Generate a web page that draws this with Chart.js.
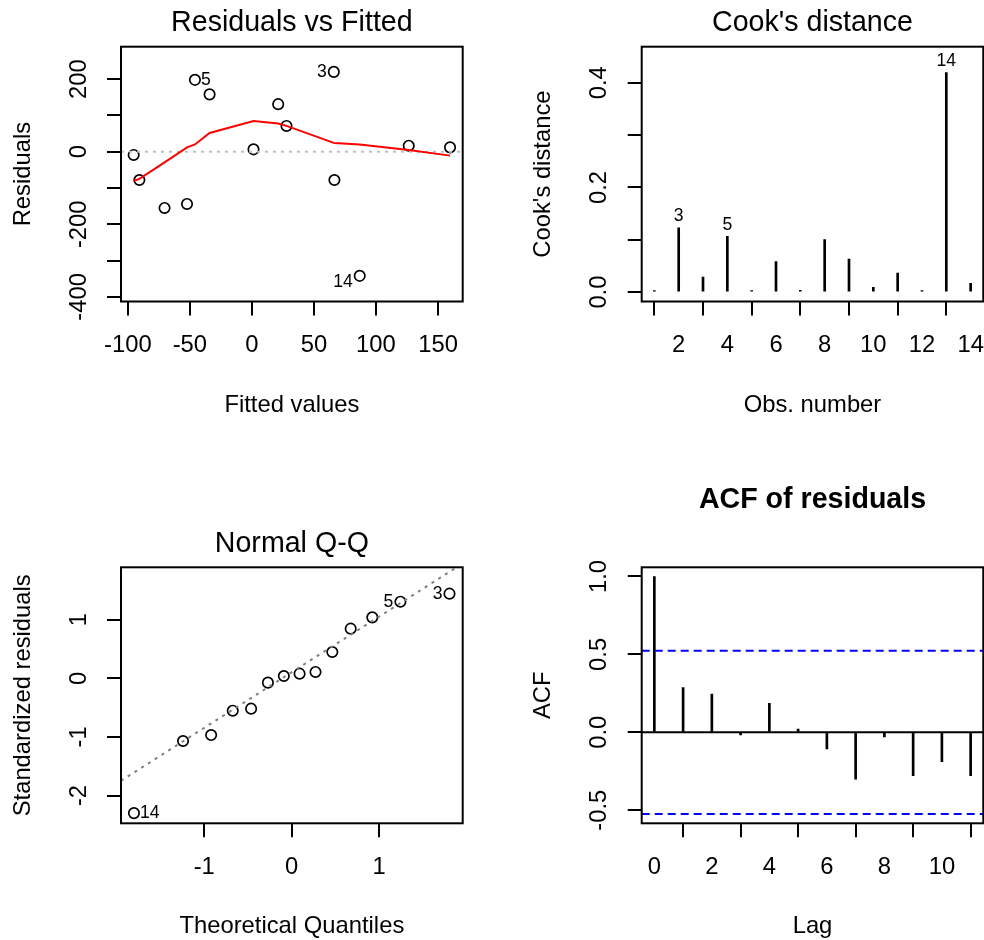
<!DOCTYPE html>
<html>
<head>
<meta charset="utf-8">
<title>Residual diagnostics</title>
<script src="https://cdn.jsdelivr.net/npm/chart.js@4.4.1/dist/chart.umd.min.js"></script>
<style>
body { margin: 0; background: #fff; }
#wrap { position: relative; width: 984px; height: 940px; }
.panel { position: absolute; width: 492px; height: 470px; }
</style>
</head>
<body>
<div id="wrap">
  <div class="panel" style="left:0;top:0"><canvas id="c1" width="492" height="470"></canvas></div>
  <div class="panel" style="left:492px;top:0"><canvas id="c2" width="492" height="470"></canvas></div>
  <div class="panel" style="left:0;top:470px"><canvas id="c3" width="492" height="470"></canvas></div>
  <div class="panel" style="left:492px;top:470px"><canvas id="c4" width="492" height="470"></canvas></div>
</div>
<script>
// residuals vs fitted, points sorted by fitted value
var fitted = [-95.3, -90.7, -70.4, -52.3, -45.9, -34.1, 1.3, 21.2, 27.9, 66.0, 66.5, 86.9, 126.4, 159.7];
var resid = [-9, -78, -155, -144, 198, 158, 6.5, 131, 71, 220, -78, -342, 16.5, 12];
var residIds = ['', '', '', '', '5', '', '', '', '', '3', '', '14', '', ''];
var smoothFit = [-80.6, -75, -29.5, 12, 20, 51.5, 84.6, 77.6, 71.2, 24.3, 24, 19.6, 5, -10.8];

// cook's distance
var obsNumber = [1, 2, 3, 4, 5, 6, 7, 8, 9, 10, 11, 12, 13, 14];
var cooksD = [0.0005, 0.123, 0.0286, 0.1067, 0.0013, 0.0584, 0.0032, 0.1003, 0.0629, 0.0089, 0.0362, 0.0013, 0.4197, 0.0165];
var cooksIds = ['', '3', '', '5', '', '', '', '', '', '', '', '', '14', ''];

// normal q-q
var theoQuant = [-1.803, -1.242, -0.921, -0.674, -0.464, -0.272, -0.090, 0.090, 0.272, 0.464, 0.674, 0.921, 1.242, 1.803];
var stdResid = [-2.30, -1.07, -0.968, -0.553, -0.518, -0.074, 0.039, 0.079, 0.108, 0.449, 0.847, 1.04, 1.307, 1.444];
var qqIds = ['14', '', '', '', '', '', '', '', '', '', '', '', '5', '3'];
var qqLineX = [-1.951, 1.885];
var qqLineY = [-1.748, 1.894];

// acf of residuals
var lags = [0, 1, 2, 3, 4, 5, 6, 7, 8, 9, 10, 11];
var acfVals = [1, 0.287, 0.246, -0.017, 0.186, 0.021, -0.107, -0.300, -0.030, -0.278, -0.188, -0.278];
var acfLimit = 0.524;

// ticks
var fittedTicks = [-100, -50, 0, 50, 100, 150];
var residTicks = [-400, -300, -200, -100, 0, 100, 200];
var residTickLabels = ['-400', '', '-200', '', '0', '', '200'];
var obsTicks = [2, 4, 6, 8, 10, 12, 14];
var cooksTicks = [0, 0.1, 0.2, 0.3, 0.4];
var cooksTickLabels = ['0.0', '', '0.2', '', '0.4'];
var quantTicks = [-1, 0, 1];
var stdTicks = [-2, -1, 0, 1];
var lagTicks = [0, 2, 4, 6, 8, 10];
var acfTicks = [-0.5, 0, 0.5, 1];
var acfTickLabels = ['-0.5', '0.0', '0.5', '1.0'];

var FONT = "'Liberation Sans', Arial, Helvetica, sans-serif";
var BASE = 23.8, MAIN = 28.6, ID = 17.6;

function pts(xs, ys) {
  return xs.map(function (x, i) { return {x: x, y: ys[i]}; });
}

function widest(labels) {
  var ctx = document.createElement('canvas').getContext('2d');
  ctx.font = BASE + 'px ' + FONT;
  var w = 0;
  labels.forEach(function (l) { w = Math.max(w, ctx.measureText(l).width); });
  return w;
}

var tickGrid = {
  drawOnChartArea: false, drawTicks: true, tickLength: 14,
  color: '#000', tickColor: '#000', lineWidth: 2, tickWidth: 2
};

function axisX(box, min, max, ticks, labels, title) {
  var h = 470 - box.b;
  return {
    type: 'linear', min: min, max: max, bounds: 'data', offset: false,
    afterBuildTicks: function (s) { s.ticks = ticks.map(function (v) { return {value: v}; }); },
    afterFit: function (s) { s.height = h; s.paddingLeft = 0; s.paddingRight = 0; },
    ticks: {
      autoSkip: false, minRotation: 0, maxRotation: 0, padding: 16, color: '#000',
      font: {family: FONT, size: BASE},
      callback: function (v, i) { return labels[i]; }
    },
    grid: tickGrid,
    border: {display: false},
    // axis title sits 103.5px below the plot box
    title: {display: true, text: title, color: '#000', font: {family: FONT, size: BASE},
      padding: {top: 0, bottom: h - 103.5 - BASE * 0.6}}
  };
}

function axisY(box, min, max, ticks, labels, title) {
  return {
    type: 'linear', min: min, max: max, bounds: 'data',
    afterBuildTicks: function (s) { s.ticks = ticks.map(function (v) { return {value: v}; }); },
    afterFit: function (s) { s.width = box.l; s.paddingTop = 0; s.paddingBottom = 0; },
    ticks: {
      autoSkip: false, minRotation: 90, maxRotation: 90, crossAlign: 'center',
      padding: 41.8 - 14 - widest(labels) / 2, color: '#000',
      font: {family: FONT, size: BASE},
      callback: function (v, i) { return labels[i]; }
    },
    grid: tickGrid,
    border: {display: false},
    title: {display: true, text: title, color: '#000', font: {family: FONT, size: BASE},
      padding: {top: box.l - 97.9 - BASE * 0.6, bottom: 0}}
  };
}

function options(box, title, bold, titleTop, x, y, ids) {
  return {
    responsive: false, animation: false, events: [],
    layout: {padding: {left: 0, top: 0, bottom: 0, right: 492 - box.r}},
    plugins: {
      legend: {display: false},
      tooltip: {enabled: false},
      title: {
        display: true, text: title, fullSize: false, color: '#000',
        font: {family: FONT, size: MAIN, weight: bold ? 'bold' : 'normal', lineHeight: 1},
        padding: {top: titleTop, bottom: box.t - MAIN - titleTop}
      },
      idLabels: ids
    },
    scales: {x: x, y: y}
  };
}

var boxPlugin = {
  id: 'plotBox',
  afterDraw: function (chart) {
    var a = chart.chartArea, ctx = chart.ctx;
    ctx.save();
    ctx.strokeStyle = '#000';
    ctx.lineWidth = 2;
    ctx.strokeRect(a.left, a.top, a.right - a.left, a.bottom - a.top);
    ctx.restore();
  }
};

// observation numbers next to the extreme points
var idPlugin = {
  id: 'idLabels',
  afterDatasetsDraw: function (chart, args, opts) {
    if (!opts || !opts.ids) return;
    var meta = chart.getDatasetMeta(opts.dataset);
    var ctx = chart.ctx;
    var xs = meta.data.map(function (el) { return el.x; });
    var mid = (Math.min.apply(null, xs) + Math.max.apply(null, xs)) / 2;
    var zero = chart.scales.y.getPixelForValue(0);
    ctx.save();
    ctx.font = ID + 'px ' + FONT;
    ctx.fillStyle = '#000';
    opts.ids.forEach(function (id, i) {
      if (!id) return;
      var el = meta.data[i];
      if (opts.above) {
        ctx.textAlign = 'center';
        ctx.textBaseline = 'alphabetic';
        ctx.fillText(id, el.x, el.y - 6.5);
        return;
      }
      var dy = (opts.lowerNegative && el.y > zero) ? 6 : 0;
      ctx.textBaseline = 'middle';
      if (el.x > mid) {
        ctx.textAlign = 'right';
        ctx.fillText(id, el.x - 7, el.y + dy);
      } else {
        ctx.textAlign = 'left';
        ctx.fillText(id, el.x + 6, el.y + dy);
      }
    });
    ctx.restore();
  }
};

function circles(data) {
  return {
    type: 'scatter', data: data, showLine: false, pointStyle: 'circle', pointRadius: 5.2,
    pointBorderWidth: 1.7, pointBorderColor: '#000', pointBackgroundColor: 'rgba(0,0,0,0)'
  };
}

function refLine(data, color, dash) {
  return {type: 'line', data: data, borderColor: color, borderWidth: 2, borderDash: dash, pointRadius: 0, fill: false};
}

// 1. residuals vs fitted
var b1 = {l: 121, r: 462.7, t: 46.7, b: 301.5};
var x1 = [-105.5, 169.9];
new Chart(document.getElementById('c1'), {
  type: 'scatter',
  data: {
    datasets: [
      refLine(pts(fitted, smoothFit), '#ff0000', []),
      refLine(pts(x1, [0, 0]), '#bebebe', [3, 5]),
      circles(pts(fitted, resid))
    ]
  },
  options: options(b1, 'Residuals vs Fitted', false, 9.1,
    axisX(b1, x1[0], x1[1], fittedTicks, fittedTicks.map(String), 'Fitted values'),
    axisY(b1, -412.7, 289.3, residTicks, residTickLabels, 'Residuals'),
    {dataset: 2, ids: residIds, lowerNegative: true}),
  plugins: [boxPlugin, idPlugin]
});

// 2. cook's distance
var b2 = {l: 149.7, r: 491.3, t: 46.7, b: 301.5};
new Chart(document.getElementById('c2'), {
  type: 'bar',
  data: {
    datasets: [{
      data: pts(obsNumber, cooksD), backgroundColor: '#000', borderWidth: 0,
      barThickness: 2, minBarLength: 1.5
    }]
  },
  options: options(b2, "Cook's distance", false, 9.1,
    axisX(b2, 0.48, 14.52, obsTicks, obsTicks.map(String), 'Obs. number'),
    axisY(b2, -0.018, 0.469, cooksTicks, cooksTickLabels, "Cook's distance"),
    {dataset: 0, ids: cooksIds, above: true}),
  plugins: [boxPlugin, idPlugin]
});

// 3. normal q-q
var b3 = {l: 121, r: 462.7, t: 97.3, b: 353.3};
new Chart(document.getElementById('c3'), {
  type: 'scatter',
  data: {
    datasets: [
      refLine(pts(qqLineX, qqLineY), '#7f7f7f', [3, 5]),
      circles(pts(theoQuant, stdResid))
    ]
  },
  options: options(b3, 'Normal Q-Q', false, 59.8,
    axisX(b3, -1.951, 1.954, quantTicks, quantTicks.map(String), 'Theoretical Quantiles'),
    axisY(b3, -2.474, 1.894, stdTicks, stdTicks.map(String), 'Standardized residuals'),
    {dataset: 1, ids: qqIds}),
  plugins: [boxPlugin, idPlugin]
});

// 4. acf of residuals
var b4 = {l: 149.7, r: 491.3, t: 97.3, b: 353.3};
var x4 = [-0.44, 11.44];
new Chart(document.getElementById('c4'), {
  type: 'bar',
  data: {
    datasets: [
      refLine(pts(x4, [acfLimit, acfLimit]), '#0000ff', [8, 5]),
      refLine(pts(x4, [-acfLimit, -acfLimit]), '#0000ff', [8, 5]),
      refLine(pts(x4, [0, 0]), '#000', []),
      {type: 'bar', data: pts(lags, acfVals), backgroundColor: '#000', borderWidth: 0, barThickness: 2, minBarLength: 1.5}
    ]
  },
  options: options(b4, 'ACF of residuals', true, 15.8,
    axisX(b4, x4[0], x4[1], lagTicks, lagTicks.map(String), 'Lag'),
    axisY(b4, -0.584, 1.059, acfTicks, acfTickLabels, 'ACF'),
    null),
  plugins: [boxPlugin, idPlugin]
});
</script>
</body>
</html>
